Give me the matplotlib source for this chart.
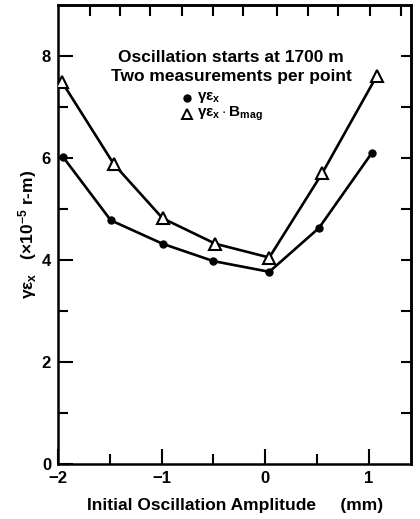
import matplotlib
matplotlib.use("Agg")
import matplotlib.pyplot as plt
import numpy as np

plt.rcParams['font.family'] = ['Liberation Sans', 'DejaVu Sans']
plt.rcParams['font.weight'] = 'bold'
plt.rcParams['axes.labelweight'] = 'bold'
plt.rcParams['mathtext.fontset'] = 'custom'
plt.rcParams['mathtext.rm'] = 'Liberation Sans:bold'
plt.rcParams['mathtext.it'] = 'Liberation Sans:bold'
plt.rcParams['mathtext.bf'] = 'Liberation Sans:bold'

# Data
amp_circ = [-1.95, -1.49, -0.99, -0.50, 0.04, 0.52, 1.03]
emit = [6.02, 4.78, 4.32, 3.98, 3.77, 4.63, 6.10]
amp_tri = [-1.96, -1.46, -0.99, -0.48, 0.04, 0.55, 1.08]
emit_bmag = [7.49, 5.88, 4.82, 4.32, 4.05, 5.70, 7.62]

xticks = [-2, -1, 0, 1]
xtick_labels = ['\u22122', '\u22121', '0', '1']
yticks = [0, 2, 4, 6, 8]
top_ticks = [-1.69, -1.40, -1.11, -0.80, -0.50, -0.21, 0.11, 0.41, 0.70, 1.01, 1.31]

fig = plt.figure(figsize=(4.2, 5.19), dpi=100)
ax = fig.add_axes([0.138, 0.106, 0.841, 0.884])

ax.plot(amp_circ, emit, color='black', lw=1.9, marker='o', ms=5,
        mfc='black', mec='black', zorder=3)
ax.plot(amp_tri, emit_bmag, color='black', lw=1.9, marker='^', ms=8,
        mfc='white', mec='black', mew=1.5, zorder=3)

ax.set_xlim(-2, 1.41)
ax.set_ylim(0, 9)

ax.set_xticks(xticks)
ax.set_xticklabels(xtick_labels)
ax.set_xticks([-1.5, -0.5, 0.5], minor=True)
ax.set_yticks(yticks)
ax.set_yticks([1, 3, 5, 7], minor=True)

ax.tick_params(axis='both', which='major', direction='in', length=11, width=1.5,
               labelsize=12, pad=5)
ax.tick_params(axis='both', which='minor', direction='in', length=7, width=1.5)
ax.tick_params(axis='x', which='both', top=False)
ax.tick_params(axis='y', which='both', right=False)

# top ticks (as secondary axis)
sec_top = ax.secondary_xaxis('top')
sec_top.set_xticks(top_ticks)
sec_top.tick_params(direction='in', length=8, width=1.5, labeltop=False)
sec_top.set_xticklabels([])

# right ticks
sec_right = ax.secondary_yaxis('right')
sec_right.set_yticks([1, 2, 3, 4, 5, 6, 7, 8])
sec_right.tick_params(direction='in', length=7, width=1.5, labelright=False)
sec_right.set_yticklabels([])

for s in ax.spines.values():
    s.set_linewidth(1.8)
for sec in (sec_top, sec_right):
    for s in sec.spines.values():
        s.set_linewidth(1.8)

ax.set_xlabel('Initial Oscillation Amplitude     (mm)', fontsize=12.5, labelpad=9)
ax.set_ylabel(r'$\gamma\varepsilon_x$   ($\times$10$^{-5}$ r-m)', fontsize=12.5, labelpad=2)

ax.text(0.49, 0.887, 'Oscillation starts at 1700 m', transform=ax.transAxes,
        ha='center', va='center', fontsize=12.5)
ax.text(0.49, 0.845, 'Two measurements per point', transform=ax.transAxes,
        ha='center', va='center', fontsize=12.5)

# legend-like labels
ax.plot([-0.75], [7.18], marker='o', ms=5, color='black', ls='none')
ax.text(-0.66, 7.18, r'$\gamma\varepsilon_x$', fontsize=11, va='center', ha='left')
ax.plot([-0.75], [6.86], marker='^', ms=7, mfc='white', mec='black', mew=1.4, ls='none')
ax.text(-0.66, 6.86, r'$\gamma\varepsilon_x\cdot$B$_{mag}$', fontsize=11, va='center', ha='left')

fig.savefig('out.png', dpi=100)
